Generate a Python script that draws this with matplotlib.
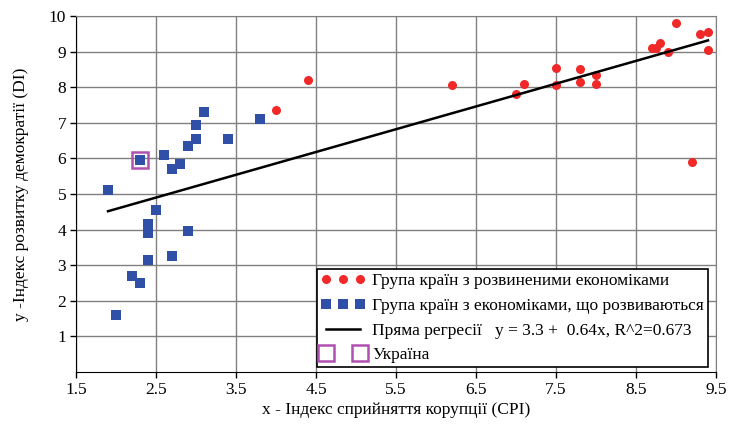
import matplotlib.pyplot as plt
from matplotlib.legend_handler import HandlerLine2D

plt.rcParams['font.family'] = ['Liberation Serif', 'DejaVu Serif']

# developed economies (CPI, DI)
dev_x = [4.0, 4.4, 6.2, 7.0, 7.1, 7.5, 7.5, 7.8, 7.8, 8.0, 8.0,
         8.7, 8.75, 8.8, 8.9, 9.0, 9.2, 9.3, 9.4, 9.4]
dev_y = [7.35, 8.2, 8.05, 7.8, 8.1, 8.55, 8.05, 8.5, 8.15, 8.35, 8.1,
         9.1, 9.1, 9.25, 9.0, 9.8, 5.9, 9.5, 9.55, 9.05]

# developing economies
emg_x = [1.9, 2.0, 2.2, 2.3, 2.3, 2.4, 2.4, 2.4, 2.5, 2.6, 2.7, 2.7,
         2.8, 2.9, 2.9, 3.0, 3.0, 3.1, 3.4, 3.8]
emg_y = [5.1, 1.6, 2.7, 2.5, 5.95, 3.15, 3.9, 4.15, 4.55, 6.1, 5.7, 3.25,
         5.85, 6.35, 3.95, 6.55, 6.95, 7.3, 6.55, 7.1]

ukr_x = [2.3]
ukr_y = [5.95]

# regression line y = 3.3 + 0.64x
reg_a, reg_b = 3.3, 0.64
reg_x = [1.9, 9.4]
reg_y = [reg_a + reg_b * v for v in reg_x]

xticks = [1.5, 2.5, 3.5, 4.5, 5.5, 6.5, 7.5, 8.5, 9.5]
yticks = [1, 2, 3, 4, 5, 6, 7, 8, 9, 10]

fig = plt.figure(figsize=(7.33, 4.34), dpi=100)
ax = fig.add_axes([0.1037, 0.143, 0.8731, 0.820])

ax.set_xlim(1.5, 9.5)
ax.set_ylim(0, 10)
ax.set_xticks(xticks)
ax.set_xticklabels([str(t) for t in xticks])
ax.set_yticks(yticks)
ax.grid(True, color='#808080', linewidth=1.0)
ax.set_axisbelow(True)
for s in ['top', 'right']:
    ax.spines[s].set_color('#808080')
for s in ['left', 'bottom']:
    ax.spines[s].set_color('black')
ax.tick_params(direction='out', length=4, width=1, labelsize=12.5, pad=3)

h_dev, = ax.plot(dev_x, dev_y, 'o', color='#f02828', markersize=6.5,
                 markeredgewidth=0, linestyle='none',
                 label='Група країн з розвиненими економіками')
h_emg, = ax.plot(emg_x, emg_y, 's', color='#3050a8', markersize=7,
                 markeredgewidth=0, linestyle='none',
                 label='Група країн з економіками, що розвиваються')
h_reg, = ax.plot(reg_x, reg_y, '-', color='black', linewidth=1.8,
                 label='Пряма регресії   y = 3.3 +  0.64x, R^2=0.673')
h_ukr, = ax.plot(ukr_x, ukr_y, 's', markerfacecolor='none',
                 markeredgecolor='#b050b0', markeredgewidth=1.8,
                 markersize=12, linestyle='none', label='Україна')

leg = ax.legend(handles=[h_dev, h_emg, h_reg, h_ukr], loc='lower right',
                bbox_to_anchor=(0.987, 0.014), numpoints=3, fontsize=12.5,
                frameon=True, fancybox=False, framealpha=1,
                edgecolor='black', borderpad=0.2, labelspacing=0.5,
                handlelength=2.6, handletextpad=0.4, borderaxespad=0,
                handler_map={h_ukr: HandlerLine2D(numpoints=2)})
leg.get_frame().set_linewidth(1.2)
for lh in leg.legend_handles:
    if lh.get_marker() == 's' and lh.get_markerfacecolor() == 'none':
        lh.set_markersize(11)

ax.set_xlabel('x - Індекс сприйняття корупції (CPI)', fontsize=12.5, labelpad=3)
ax.set_ylabel('у -Індекс розвитку демократії (DI)', fontsize=12.5, labelpad=14)

fig.savefig('out.png', dpi=100)
